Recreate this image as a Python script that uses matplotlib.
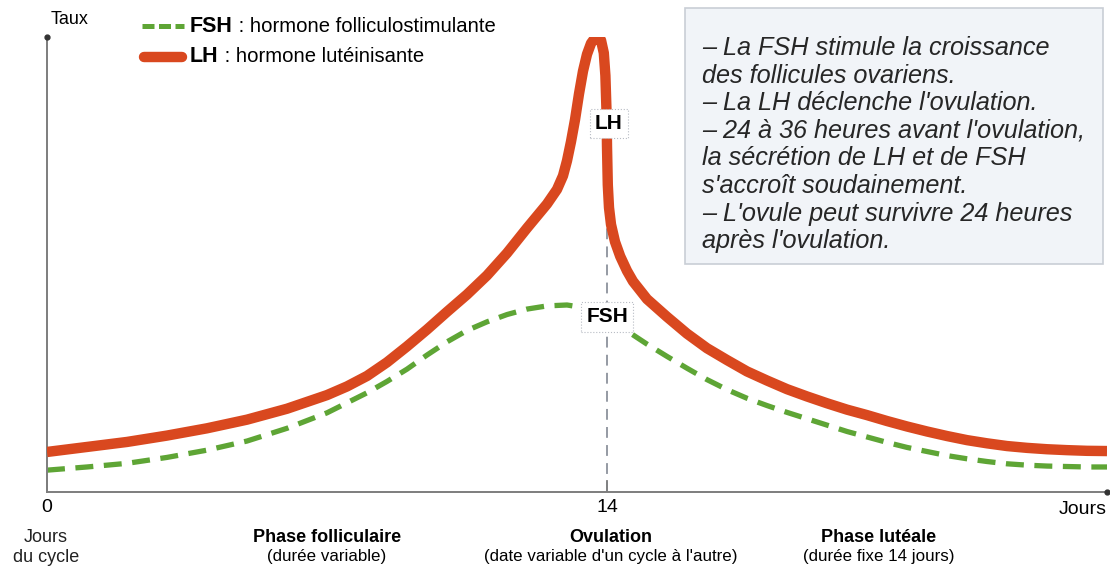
import matplotlib
matplotlib.use("Agg")
import matplotlib.pyplot as plt
from matplotlib import font_manager
from matplotlib.lines import Line2D
from matplotlib.patches import Rectangle

# Hormone levels (day of the cycle, relative level 0-100)
lh_days = [0, 1, 2, 3, 4, 5, 6, 7, 7.5, 8, 8.5, 9, 9.5, 10, 10.5, 11, 11.5, 12, 12.5,
           12.75, 12.9, 13.0, 13.1, 13.2, 13.3, 13.4, 13.5, 13.6, 13.7, 13.78, 13.85,
           13.92, 13.96, 13.99, 14.0, 14.02, 14.05, 14.1, 14.2, 14.33, 14.5, 14.65, 15.0,
           15.5, 16.0, 16.5, 17.0, 17.5, 18.0, 18.5, 19.0, 19.5, 20.0, 20.5, 21.0, 21.5,
           22.0, 22.5, 23.0, 23.5, 24.0, 24.5, 25.0, 25.5, 26.0, 26.5]
lh_level = [8.8, 9.9, 11.0, 12.4, 14.0, 15.9, 18.3, 21.3, 23.2, 25.5, 28.5, 32.0, 35.7,
            39.6, 43.4, 47.6, 52.5, 58.0, 63.3, 66.5, 69.5, 72.8, 77.0, 81.8, 87.5, 92.5,
            96.2, 98.6, 99.8, 100.0, 99.3, 96.5, 91.5, 83.0, 76.0, 67.5, 62.5, 58.8, 55.0,
            51.8, 48.6, 46.3, 42.4, 38.5, 34.8, 31.6, 29.0, 26.5, 24.5, 22.6, 21.0, 19.5,
            18.1, 16.9, 15.6, 14.4, 13.3, 12.3, 11.4, 10.7, 10.1, 9.7, 9.4, 9.2, 9.05, 9.0]

fsh_days = [0, 1, 2, 3, 4, 5, 6, 7, 7.5, 8, 8.5, 9, 9.5, 10, 10.5, 11, 11.5, 12, 12.5,
            13, 13.5, 14, 14.5, 15, 15.5, 16, 16.5, 17, 17.5, 18, 18.5, 19, 19.5, 20,
            20.5, 21, 21.5, 22, 22.5, 23, 23.5, 24, 24.5, 25, 25.5, 26, 26.5]
fsh_level = [4.8, 5.5, 6.3, 7.6, 9.2, 11.2, 14.0, 17.4, 19.6, 21.8, 24.3, 27.0, 30.1,
             33.0, 35.5, 37.4, 39.0, 40.2, 40.9, 41.1, 40.4, 38.3, 35.4, 32.5, 29.8, 27.2,
             24.7, 22.5, 20.6, 19.0, 17.5, 16.1, 14.7, 13.3, 12.1, 10.9, 9.8, 8.9, 8.0,
             7.3, 6.7, 6.2, 5.9, 5.7, 5.6, 5.5, 5.5]

ovulation_day = 14
x_ticks = [0, 14]
x_tick_labels = ["0", "14"]

phase_titles = ["Phase folliculaire", "Ovulation", "Phase lutéale"]
phase_notes = ["(durée variable)", "(date variable d'un cycle à l'autre)", "(durée fixe 14 jours)"]
phase_centres = [7.0, 14.1, 20.8]

notes = [
    "– La FSH stimule la croissance",
    "des follicules ovariens.",
    "– La LH déclenche l'ovulation.",
    "– 24 à 36 heures avant l'ovulation,",
    "la sécrétion de LH et de FSH",
    "s'accroît soudainement.",
    "– L'ovule peut survivre 24 heures",
    "après l'ovulation.",
]

LH_COLOR = "#d9481f"
FSH_COLOR = "#5ea535"
AXIS_COLOR = "#7d7d7d"

available = {f.name for f in font_manager.fontManager.ttflist}
NARROW = "Liberation Sans Narrow" if "Liberation Sans Narrow" in available else "Liberation Sans"
BODY = "Liberation Sans"

W, H = 1110, 572
fig = plt.figure(figsize=(W / 100, H / 100), dpi=100)


def fx(px):
    return px / W


def fy(py):
    return 1 - py / H


ax = fig.add_axes([fx(47), fy(492), (1107 - 47) / W, (492 - 37) / H])
ax.set_xlim(0, 26.5)
ax.set_ylim(0, 100)
for side in ["top", "right"]:
    ax.spines[side].set_visible(False)
for side in ["left", "bottom"]:
    ax.spines[side].set_color(AXIS_COLOR)
    ax.spines[side].set_linewidth(1.4)
ax.set_yticks([])
ax.set_xticks(x_ticks, x_tick_labels, fontfamily=BODY, fontsize=14)
ax.tick_params(axis="x", direction="in", length=9, width=1.2, color=AXIS_COLOR, pad=5)

# axis end dots
ax.plot([0], [100], marker="o", ms=3.5, color="#333333", clip_on=False, zorder=5)
ax.plot([26.5], [0], marker="o", ms=3.5, color="#333333", clip_on=False, zorder=5)

# ovulation line
ax.plot([ovulation_day, ovulation_day], [0, 99], color="#8c929c", lw=1.3,
        dashes=(6, 4), zorder=1)

ax.plot(fsh_days, fsh_level, color=FSH_COLOR, lw=3.8, dashes=(3.4, 2.0),
        dash_capstyle="butt", zorder=2)
ax.plot(lh_days, lh_level, color=LH_COLOR, lw=7.5, solid_joinstyle="round",
        solid_capstyle="butt", zorder=3)

# curve labels
box = dict(boxstyle="square,pad=0.25", fc="white", ec="#b8bcc4", lw=0.8, ls=":")
ax.text(14.05, 81.0, "LH", ha="center", va="center", fontfamily=NARROW,
        fontweight="bold", fontsize=15, bbox=box, zorder=6)
ax.text(14.0, 38.5, "FSH", ha="center", va="center", fontfamily=NARROW,
        fontweight="bold", fontsize=15, bbox=box, zorder=6)

# y label
fig.text(fx(70), fy(20), "Taux", ha="center", va="center", fontfamily=NARROW, fontsize=13)

# x labels
fig.text(fx(1083), fy(510), "Jours", ha="center", va="center", fontfamily=BODY, fontsize=14)
fig.text(fx(46), fy(537), "Jours", ha="center", va="center", fontfamily=BODY,
         fontsize=13, color="#222222")
fig.text(fx(46), fy(557), "du cycle", ha="center", va="center", fontfamily=BODY,
         fontsize=13, color="#222222")
xt = ax.get_xaxis_transform()
for day, title, note in zip(phase_centres, phase_titles, phase_notes):
    ax.text(day, -(537 - 492) / 455, title, transform=xt, ha="center", va="center",
            fontfamily=NARROW, fontweight="bold", fontsize=13)
    ax.text(day, -(557 - 492) / 455, note, transform=xt, ha="center", va="center",
            fontfamily=NARROW, fontsize=12.2)

# legend
fig.add_artist(Line2D([fx(142), fx(184)], [fy(26), fy(26)], color=FSH_COLOR, lw=3.6,
                      dashes=(2.4, 0.9)))
fig.add_artist(Line2D([fx(144), fx(182)], [fy(57), fy(57)], color=LH_COLOR, lw=7.5,
                      solid_capstyle="round"))
fig.canvas.draw()
renderer = fig.canvas.get_renderer()
for py, name, desc in [(26, "FSH", " : hormone folliculostimulante"),
                       (57, "LH", " : hormone lutéinisante")]:
    t = fig.text(fx(190), fy(py), name, ha="left", va="center", fontfamily=NARROW,
                 fontweight="bold", fontsize=15.5)
    bb = t.get_window_extent(renderer)
    fig.text(bb.x1 / W, fy(py), desc, ha="left", va="center", fontfamily=NARROW,
             fontsize=14.6)

# notes box
fig.add_artist(Rectangle((fx(685), fy(264)), (1103 - 685) / W, (264 - 8) / H,
                         transform=fig.transFigure, fc="#f1f4f8", ec="#c9ced6", lw=1.2))
for i, line in enumerate(notes):
    fig.text(fx(702), fy(55 + i * 27.6), line, ha="left", va="baseline",
             fontfamily=BODY, fontstyle="italic", fontsize=18.2, color="#262626")

fig.savefig("out.png", dpi=100)
